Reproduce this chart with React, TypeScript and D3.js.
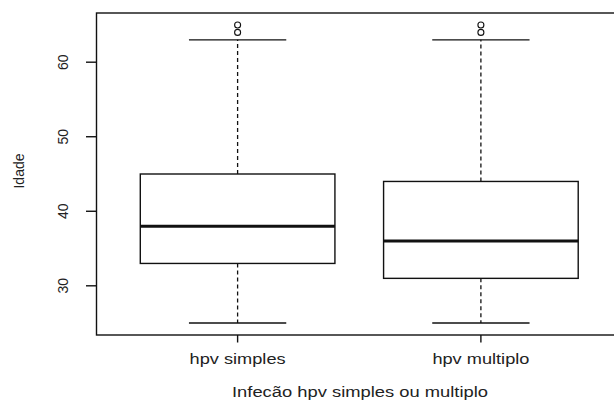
import React from "react";
import * as d3 from "d3";

// Box plot summary of age by HPV infection type
const categories = ["hpv simples", "hpv multiplo"];
const lowerWhisker = [25, 25];
const q1 = [33, 31];
const medians = [38, 36];
const q3 = [45, 44];
const upperWhisker = [63, 63];
const outliers = [[64, 65], [64, 65]];
const yTicks = [30, 40, 50, 60];

const W = 614;
const H = 400;
const plotLeft = 96.5;
const plotRight = 622;
const plotTop = 13;
const plotBottom = 335;

export default function App() {
  // R-style extended ranges: x in [0.42, 2.58], y in data range ±4%
  const x = d3.scaleLinear().domain([0.42, 2.58]).range([plotLeft, plotRight]);
  const y = d3.scaleLinear().domain([23.4, 66.6]).range([plotBottom, plotTop]);
  const boxHalf = (x(1.4) - x(1)) ;
  const capHalf = boxHalf / 2;
  const font = "'Liberation Sans', Arial, sans-serif";
  const ink = "#111";

  return (
    <svg width={W} height={H} style={{ position: "absolute", left: 0, top: 0, background: "#fff" }}>
      <rect x={0} y={0} width={W} height={H} fill="#fff" />
      {categories.map((c, i) => {
        const cx = x(i + 1);
        return (
          <g key={c}>
            {/* whiskers */}
            <line x1={cx} x2={cx} y1={y(q3[i])} y2={y(upperWhisker[i])} stroke={ink} strokeWidth={1.3} strokeDasharray="4,3" />
            <line x1={cx} x2={cx} y1={y(q1[i])} y2={y(lowerWhisker[i])} stroke={ink} strokeWidth={1.3} strokeDasharray="4,3" />
            <line x1={cx - capHalf} x2={cx + capHalf} y1={y(upperWhisker[i])} y2={y(upperWhisker[i])} stroke={ink} strokeWidth={1.4} />
            <line x1={cx - capHalf} x2={cx + capHalf} y1={y(lowerWhisker[i])} y2={y(lowerWhisker[i])} stroke={ink} strokeWidth={1.4} />
            {/* box */}
            <rect x={cx - boxHalf} y={y(q3[i])} width={boxHalf * 2} height={y(q1[i]) - y(q3[i])} fill="#fff" stroke={ink} strokeWidth={1.4} />
            <line x1={cx - boxHalf} x2={cx + boxHalf} y1={y(medians[i])} y2={y(medians[i])} stroke={ink} strokeWidth={3} />
            {/* outliers */}
            {outliers[i].map((v, j) => (
              <circle key={j} cx={cx} cy={y(v)} r={3} fill="none" stroke={ink} strokeWidth={1.1} />
            ))}
            {/* x tick */}
            <line x1={cx} x2={cx} y1={plotBottom} y2={plotBottom + 7.5} stroke={ink} strokeWidth={1.4} />
            <text x={cx} y={364} textAnchor="middle" fontFamily={font} fontSize={14} fill="#222"
              textLength={i === 0 ? 96 : 97} lengthAdjust="spacingAndGlyphs">{c}</text>
          </g>
        );
      })}
      {/* plot frame */}
      <rect x={plotLeft} y={plotTop} width={plotRight - plotLeft} height={plotBottom - plotTop} fill="none" stroke={ink} strokeWidth={1.4} />
      {/* y axis ticks and labels */}
      {yTicks.map((t) => (
        <g key={t}>
          <line x1={plotLeft - 10.5} x2={plotLeft} y1={y(t)} y2={y(t)} stroke={ink} strokeWidth={1.4} />
          <text transform={`translate(68,${y(t)}) rotate(-90)`} textAnchor="middle" fontFamily={font} fontSize={14} fill="#222">{t}</text>
        </g>
      ))}
      <text transform={`translate(24,${(plotTop + plotBottom) / 2 - 3}) rotate(-90)`} textAnchor="middle" fontFamily={font} fontSize={14} fill="#222">Idade</text>
      <text x={360} y={397} textAnchor="middle" fontFamily={font} fontSize={14} fill="#222"
        textLength={256} lengthAdjust="spacingAndGlyphs">Infecão hpv simples ou multiplo</text>
    </svg>
  );
}
